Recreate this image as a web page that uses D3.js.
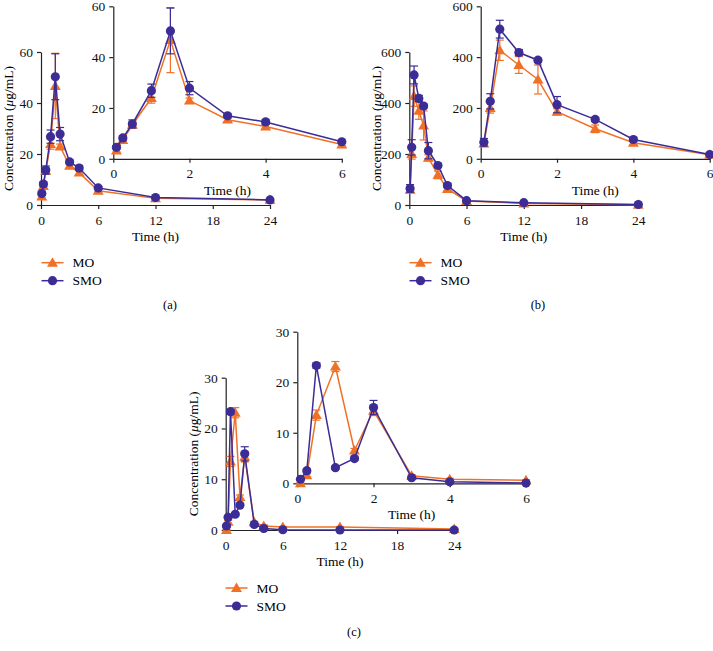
<!DOCTYPE html>
<html>
<head>
<meta charset="utf-8">
<script src="https://cdn.jsdelivr.net/npm/d3@7"></script>
<style>
  body { margin: 0; background: #fff; }
  svg text { font-family: 'Liberation Serif', 'Times New Roman', Times, serif; }
</style>
</head>
<body>
<div id="app"></div>
<script>
// sampling times (h)
const times = [0.083, 0.25, 0.5, 1, 1.5, 2, 3, 4, 6, 12, 24];

// panel (a)
const aMO     = [3.3, 7.4, 13.4, 23.9, 46.7, 22.9, 15.4, 12.7, 5.6, 2.6, 2.0];
const aMOsd   = [0.6, 0.8, 1.2, 2.0, 12.8, 1.0, 0.8, 0.9, 0.5, 0.3, 0.2];
const aSMO    = [4.5, 8.2, 13.7, 26.8, 50.3, 27.8, 16.9, 14.5, 6.7, 2.9, 2.0];
const aSMOsd  = [0.7, 0.9, 1.6, 2.6, 9.0, 2.6, 0.8, 1.0, 0.6, 0.3, 0.2];

// panel (b)
const bMO     = [60, 200, 427, 369, 312, 185, 118, 63, 16, 6, 1];
const bMOsd   = [12, 20, 40, 33, 57, 12, 15, 8, 3, 2, 1];
const bSMO    = [65, 226, 510, 418, 388, 213, 155, 76, 17, 9, 2];
const bSMOsd  = [15, 30, 35, 12, 8, 32, 8, 8, 3, 2, 1];

// panel (c)
const cMO     = [0.0, 1.6, 13.5, 23.1, 6.5, 14.4, 1.5, 0.8, 0.6, 0.6, 0.2];
const cMOsd   = [0.1, 0.3, 1.0, 1.0, 0.4, 1.0, 0.2, 0.2, 0.1, 0.1, 0.1];
const cSMO    = [0.8, 2.5, 23.3, 3.1, 4.9, 15.0, 1.1, 0.3, 0.05, 0.0, 0.0];
const cSMOsd  = [0.2, 0.3, 0.5, 0.3, 0.3, 1.4, 0.2, 0.1, 0.05, 0.0, 0.0];

const mainTicks = [0, 6, 12, 18, 24];
const insetTicks = [0, 2, 4, 6];
const seriesNames = ['MO', 'SMO'];

const orange = '#f07126';
const purple = '#3b2c96';
const axisColor = '#222';
const serif = "'Liberation Serif', 'Times New Roman', Times, serif";

const svg = d3.select('#app').append('svg')
  .attr('width', 713).attr('height', 651)
  .attr('font-family', serif);

function series(mo, mosd, smo, smosd) {
  return [
    {name: 'MO', color: orange, shape: 'tri', vals: mo, sd: mosd},
    {name: 'SMO', color: purple, shape: 'dot', vals: smo, sd: smosd}
  ];
}

function drawMarker(g, shape, color) {
  if (shape === 'tri') {
    g.append('path')
      .attr('d', d3.symbol(d3.symbolTriangle, 52)())
      .attr('transform', 'translate(0,0.8)')
      .attr('fill', color);
  } else {
    g.append('circle').attr('r', 4.6).attr('fill', color);
  }
}

// one small plot: left/bottom in px, xMax hours, yMax value
function plot(opt) {
  const x = d3.scaleLinear().domain([0, opt.xMax]).range([opt.left, opt.left + opt.w]);
  const y = d3.scaleLinear().domain([0, opt.yMax]).range([opt.bottom, opt.bottom - opt.h]);
  const g = svg.append('g');

  const xa = g.append('g')
    .attr('transform', `translate(0,${opt.bottom})`)
    .call(d3.axisBottom(x).tickValues(opt.xTicks).tickFormat(d3.format('d'))
      .tickSize(4).tickSizeOuter(0).tickPadding(6));
  const ya = g.append('g')
    .attr('transform', `translate(${opt.left},0)`)
    .call(d3.axisLeft(y).tickValues(d3.range(0, opt.yMax + 0.001, opt.yStep))
      .tickFormat(d3.format('d')).tickSize(4).tickSizeOuter(0).tickPadding(4));
  [xa, ya].forEach(a => {
    a.attr('font-family', serif);
    a.selectAll('path, line').attr('stroke', axisColor).attr('stroke-width', 1.2);
    a.selectAll('text').attr('font-size', 13.5).attr('fill', '#111');
  });

  g.append('text')
    .attr('x', opt.left + opt.w / 2)
    .attr('y', opt.bottom + 36)
    .attr('text-anchor', 'middle')
    .attr('font-size', 13.5)
    .text('Time (h)');

  if (opt.yTitle) {
    const t = g.append('text')
      .attr('transform', `translate(${opt.left - 28},${opt.bottom - opt.h / 2}) rotate(-90)`)
      .attr('text-anchor', 'middle')
      .attr('font-size', 13.5);
    t.append('tspan').text('Concentration (');
    t.append('tspan').attr('font-style', 'italic').text('\u03bc');
    t.append('tspan').text('g/mL)');
  }

  const idx = times.map((t, i) => i).filter(i => times[i] <= opt.xMax);
  const line = d3.line().x(i => x(times[i]));

  opt.series.forEach(s => {
    const sg = g.append('g');
    // error bars
    idx.forEach(i => {
      if (!s.sd[i]) return;
      const cx = x(times[i]);
      const y1 = y(s.vals[i] + s.sd[i]), y2 = y(Math.max(0, s.vals[i] - s.sd[i]));
      sg.append('line').attr('x1', cx).attr('x2', cx).attr('y1', y1).attr('y2', y2)
        .attr('stroke', s.color).attr('stroke-width', 1.2);
      [y1, y2].forEach(yy => sg.append('line')
        .attr('x1', cx - 4).attr('x2', cx + 4).attr('y1', yy).attr('y2', yy)
        .attr('stroke', s.color).attr('stroke-width', 1.2));
    });
    sg.append('path')
      .attr('d', line.y(i => y(s.vals[i]))(idx))
      .attr('fill', 'none').attr('stroke', s.color).attr('stroke-width', 1.5);
    idx.forEach(i => {
      const m = sg.append('g').attr('transform', `translate(${x(times[i])},${y(s.vals[i])})`);
      drawMarker(m, s.shape, s.color);
    });
  });
}

function legend(left, top, ser) {
  ser.forEach((s, k) => {
    const yy = top + k * 18;
    svg.append('line').attr('x1', left).attr('x2', left + 22).attr('y1', yy).attr('y2', yy)
      .attr('stroke', s.color).attr('stroke-width', 1.5);
    drawMarker(svg.append('g').attr('transform', `translate(${left + 11},${yy})`), s.shape, s.color);
    svg.append('text').attr('x', left + 31).attr('y', yy + 4.5)
      .attr('font-size', 13.5).text(seriesNames[k]);
  });
}

function panelLabel(cx, cy, txt) {
  svg.append('text').attr('x', cx).attr('y', cy).attr('text-anchor', 'middle')
    .attr('font-size', 12.5).text(txt);
}

const sa = series(aMO, aMOsd, aSMO, aSMOsd);
const sb = series(bMO, bMOsd, bSMO, bSMOsd);
const sc = series(cMO, cMOsd, cSMO, cSMOsd);

// (a)
plot({left: 41, bottom: 205, w: 229, h: 153, xMax: 24, xTicks: mainTicks, yMax: 60, yStep: 20, yTitle: true, series: sa});
plot({left: 113.3, bottom: 158.8, w: 228.5, h: 152.5, xMax: 6, xTicks: insetTicks, yMax: 60, yStep: 20, series: sa});
legend(41.5, 262.7, sa);
panelLabel(170, 309, '(a)');

// (b)
plot({left: 409.3, bottom: 205, w: 229, h: 153, xMax: 24, xTicks: mainTicks, yMax: 600, yStep: 200, yTitle: true, series: sb});
plot({left: 480.7, bottom: 158.8, w: 229, h: 152.5, xMax: 6, xTicks: insetTicks, yMax: 600, yStep: 200, series: sb});
legend(409.5, 262.7, sb);
panelLabel(538, 309, '(b)');

// (c)
plot({left: 225.7, bottom: 530, w: 228.5, h: 152.3, xMax: 24, xTicks: mainTicks, yMax: 30, yStep: 10, yTitle: true, series: sc});
plot({left: 297.3, bottom: 483.3, w: 228.7, h: 151.6, xMax: 6, xTicks: insetTicks, yMax: 30, yStep: 10, series: sc});
legend(225.5, 588, sc);
panelLabel(354, 636, '(c)');
</script>
</body>
</html>
